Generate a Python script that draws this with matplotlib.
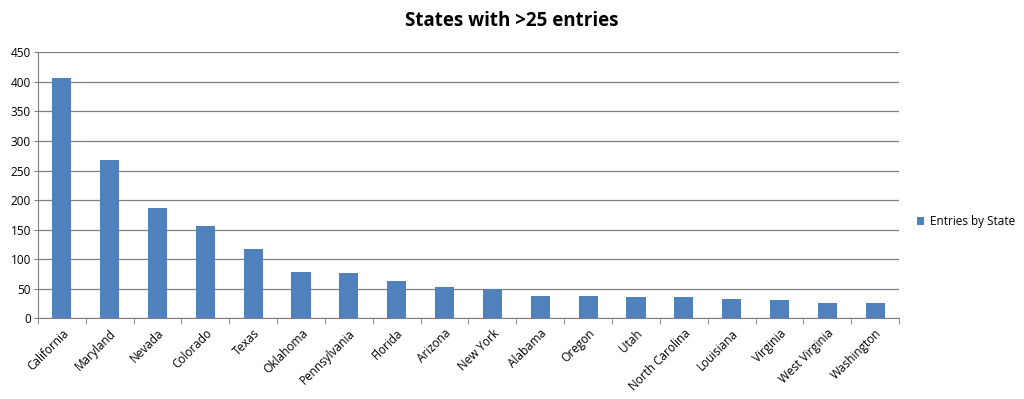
import matplotlib.pyplot as plt
import numpy as np

states = ['California', 'Maryland', 'Nevada', 'Colorado', 'Texas', 'Oklahoma',
          'Pennsylvania', 'Florida', 'Arizona', 'New York', 'Alabama', 'Oregon',
          'Utah', 'North Carolina', 'Louisiana', 'Virginia', 'West Virginia',
          'Washington']
entries = [406, 268, 187, 156, 117, 78, 77, 63, 53, 49, 38, 38, 36, 36, 33, 31, 26, 26]

plt.rcParams['font.family'] = ['Open Sans', 'DejaVu Sans']

fig = plt.figure(figsize=(10.24, 3.99), dpi=100)
ax = fig.add_axes([0.037, 0.202, 0.841, 0.667])

x = np.arange(len(states))
ax.bar(x, entries, width=0.4, color='#4F81BD', label='Entries by State', zorder=3)

ax.set_xlim(-0.5, len(states) - 0.5)
ax.set_ylim(0, 450)
ax.set_yticks(range(0, 451, 50))
ax.yaxis.grid(True, color='#808080', linewidth=0.9, zorder=0)
ax.tick_params(axis='y', labelsize=8.5, length=3, color='#808080', pad=2)

ax.set_xticks(x)
ax.set_xticklabels(states, rotation=45, ha='right', rotation_mode='anchor', fontsize=8.5)
ax.set_xticks(np.arange(-0.5, len(states)), minor=True)
ax.tick_params(axis='x', which='major', length=0, pad=6)
ax.tick_params(axis='x', which='minor', length=4, color='#808080')

for side in ['top', 'right']:
    ax.spines[side].set_visible(False)
for side in ['left', 'bottom']:
    ax.spines[side].set_color('#808080')

fig.text(0.5, 0.948, 'States with >25 entries', ha='center', va='center',
         fontsize=13.5, fontweight='bold')

fig.legend(loc='center left', bbox_to_anchor=(0.885, 0.445), frameon=False,
           fontsize=8.5, handlelength=0.6, handleheight=0.6, handletextpad=0.5)

fig.savefig('out.png', dpi=100)
